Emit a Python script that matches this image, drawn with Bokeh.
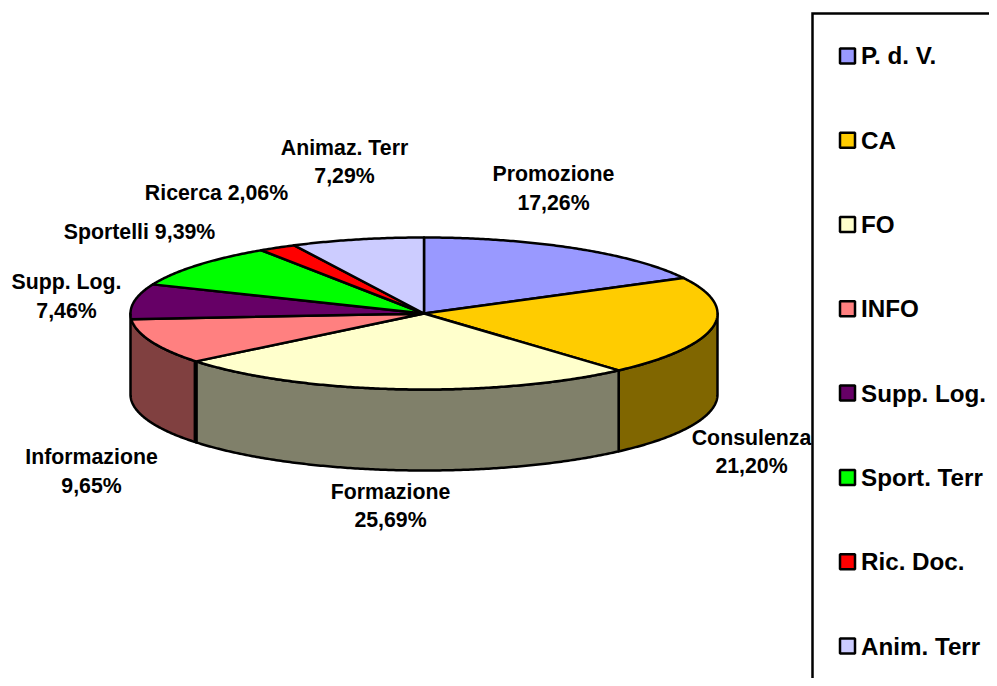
import numpy as np
from bokeh.embed import file_html
from bokeh.models import ColumnDataSource, Range1d
from bokeh.plotting import figure
from bokeh.resources import INLINE
from bokeh.core.properties import value

# Chart data
slice_names = ["Promozione", "Consulenza", "Formazione", "Informazione",
               "Supp. Log.", "Sportelli", "Ricerca", "Animaz. Terr"]
slice_values = [17.26, 21.20, 25.69, 9.65, 7.46, 9.39, 2.06, 7.29]
slice_colors = ["#9999FF", "#FFCC00", "#FFFFCC", "#FF8080",
                "#660066", "#00FF00", "#FF0000", "#CCCCFF"]
side_colors = [None, "#806600", "#80806A", "#804040", None, None, None, None]
legend_names = ["P. d. V.", "CA", "FO", "INFO", "Supp. Log.",
                "Sport. Terr", "Ric. Doc.", "Anim. Terr"]

# Layout (reference pixels)
CX, CY, RX, RY, DEPTH = 423.5, 313.0, 293.5, 76.0, 81.0
LABEL_FONT = "21.3px"
LEGEND_FONT = "24.2px"
PIE_LINE = 2.5
label_text = ["Promozione", "17,26%", "Animaz. Terr", "7,29%", "Ricerca 2,06%",
              "Sportelli 9,39%", "Supp. Log.", "7,46%", "Informazione", "9,65%",
              "Formazione", "25,69%", "Consulenza", "21,20%"]
label_x = [553, 553, 344, 344, 216, 139, 66, 66, 91, 91, 390, 390, 751, 751]
label_y = [173, 202, 147, 175, 192, 231, 281, 310, 456, 485, 491, 519, 437, 465]

p = figure(width=989, height=678, output_backend="svg", toolbar_location=None,
           x_range=Range1d(0, 989), y_range=Range1d(678, 0), min_border=0,
           outline_line_color=None, background_fill_color="white")
p.axis.visible = False
p.grid.visible = False


def rim(a1, a2, dy=0.0):
    t = np.radians(np.linspace(a1, a2, max(3, int(abs(a2 - a1) * 2))))
    return CX + RX * np.sin(t), CY + dy - RY * np.cos(t)


edges = np.concatenate([[0.0], np.cumsum(slice_values)]) / sum(slice_values) * 360.0

# Outer wall: only the front half of the pie shows one
sx, sy, sc = [], [], []
last = max(i for i, c in enumerate(side_colors) if c)
for i, c in enumerate(side_colors):
    if not c:
        continue
    a1 = max(edges[i], 90.0)
    a2 = 270.0 if i == last else min(edges[i + 1], 270.0)
    x1, y1 = rim(a1, a2)
    x2, y2 = rim(a1, a2, DEPTH)
    sx.append(np.concatenate([x1, x2[::-1]]))
    sy.append(np.concatenate([y1, y2[::-1]]))
    sc.append(c)
p.patches("x", "y", source=ColumnDataSource(dict(x=sx, y=sy, c=sc)),
          fill_color="c", line_color="black", line_width=PIE_LINE, line_join="round")

# The wall seam between Formazione and Informazione is drawn heavier in the reference
sx0, sy0 = rim(edges[3], edges[3])
p.segment(x0=[sx0[0] - 0.5], y0=[sy0[0]], x1=[sx0[0] - 0.5], y1=[sy0[0] + DEPTH],
          line_color="black", line_width=4)

# Top face
tx, ty = [], []
for i in range(len(slice_values)):
    x1, y1 = rim(edges[i], edges[i + 1])
    tx.append(np.concatenate([[CX], x1]))
    ty.append(np.concatenate([[CY], y1]))
p.patches("x", "y", source=ColumnDataSource(dict(x=tx, y=ty, c=slice_colors)),
          fill_color="c", line_color="black", line_width=PIE_LINE, line_join="round")

p.text(x="x", y="y", text="t", source=ColumnDataSource(dict(x=label_x, y=label_y, t=label_text)),
       text_font=value("Liberation Sans"), text_font_style="bold",
       text_font_size=value(LABEL_FONT), text_align="center", text_baseline="middle",
       text_color="black")

# Legend box, running off the right and bottom of the picture
p.line([1100, 812, 812], [13, 13, 800], line_color="black", line_width=2.5, line_join="miter")

leg_y = [55.4 + 84.3 * i for i in range(len(legend_names))]
p.rect(x=[847] * len(leg_y), y=leg_y, width=15, height=15, fill_color=slice_colors,
       line_color="black", line_width=2.5)
p.text(x=[860.5] * len(leg_y), y=leg_y, text=legend_names,
       text_font=value("Liberation Sans"), text_font_style="bold",
       text_font_size=value(LEGEND_FONT), text_align="left", text_baseline="middle",
       text_color="black")

open("out.html", "w").write(file_html(p, INLINE))
